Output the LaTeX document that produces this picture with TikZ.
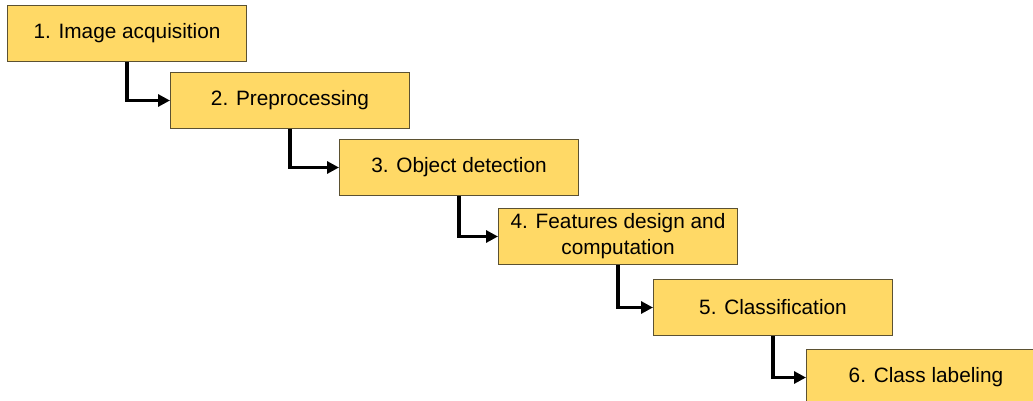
\documentclass[tikz,border=0pt]{standalone}
\usepackage{fontspec}
\setmainfont{Liberation Sans}
\usetikzlibrary{arrows.meta}
\definecolor{stepfill}{HTML}{FFD966}
\definecolor{stepedge}{HTML}{5B5132}
\begin{document}
\begin{tikzpicture}[x=1pt,y=-1pt,
  stepbox/.style={draw=stepedge, line width=1pt, fill=stepfill, anchor=north west,
    minimum width=239pt, minimum height=56pt, inner sep=2pt, align=center,
    font=\fontsize{20.8}{26}\selectfont},
  flow/.style={line width=3.5pt, -{Triangle[length=12pt,width=12pt]}}]
\useasboundingbox (0,0) rectangle (1033,401);
\begin{scope}
\clip (0,0) rectangle (1033,401);
\node[stepbox] (s1) at (7,5)   {1. Image acquisition};
\node[stepbox] (s2) at (170,72)  {2. Preprocessing};
\node[stepbox] (s3) at (339,139) {3. Object detection};
\node[stepbox] (s4) at (498,208) {4. Features design and\\computation};
\node[stepbox] (s5) at (653,279) {5. Classification};
\node[stepbox] (s6) at (806,349) {6. Class labeling};
\draw[flow] (s1.south) |- (s2.west);
\draw[flow] (s2.south) |- (s3.west);
\draw[flow] (s3.south) |- (s4.west);
\draw[flow] (s4.south) |- (s5.west);
\draw[flow] (s5.south) |- (s6.west);
\end{scope}
\end{tikzpicture}
\end{document}
